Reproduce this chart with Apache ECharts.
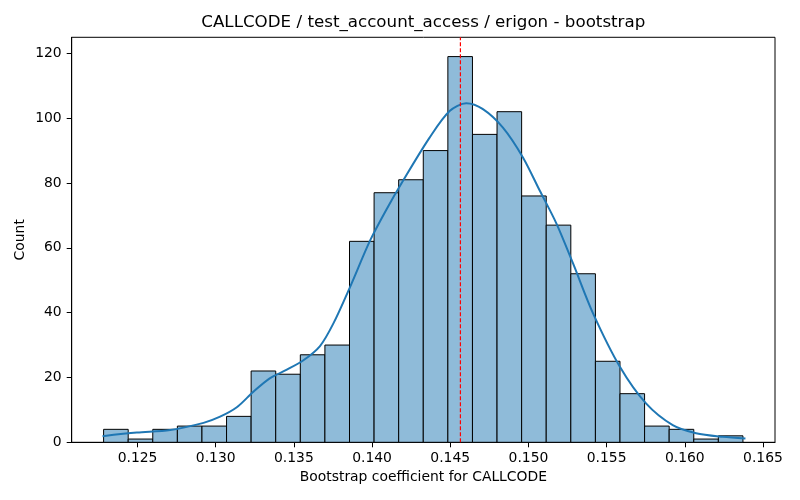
<!DOCTYPE html>
<html>
<head>
<meta charset="utf-8">
<script src="https://cdn.jsdelivr.net/npm/echarts@6/dist/echarts.min.js"></script>
<style>
  html, body { margin: 0; padding: 0; background: #fff; }
  #chart { width: 800px; height: 500px; }
</style>
</head>
<body>
<div id="chart"></div>
<script>
// histogram bins (26 equal-width bins)
const binStart = 0.12283;
const binWidth = 0.0015727;
const counts = [4, 1, 4, 5, 5, 8, 22, 21, 27, 30, 62, 77, 81, 90, 119, 95, 102, 76, 67, 52, 25, 15, 5, 4, 1, 2];

// kde curve
const kdeX = [0.12276, 0.12496, 0.12709, 0.12922, 0.13028, 0.13135, 0.13241, 0.13348, 0.13455, 0.13561,
              0.13667, 0.13752, 0.13859, 0.13987, 0.14094, 0.14198, 0.14368, 0.14496, 0.14602, 0.14709,
              0.14837, 0.14965, 0.15073, 0.15180, 0.15286, 0.15414, 0.15585, 0.15752, 0.15923, 0.16072,
              0.16242, 0.16388];
const kdeY = [1.9, 3.0, 3.8, 6.0, 7.9, 10.8, 15.6, 19.8, 22.4, 25.3,
              29.7, 36.6, 47.9, 62.2, 72.0, 80.7, 94.0, 102.2, 104.6, 102.8,
              97.1, 87.9, 77.6, 67.4, 55.1, 39.7, 23.3, 12.0, 5.3, 2.8,
              1.7, 1.2];

// point estimate (red dashed line)
const estimate = 0.14565;

const xTicks = [0.125, 0.130, 0.135, 0.140, 0.145, 0.150, 0.155, 0.160, 0.165];
const yTicks = [0, 20, 40, 60, 80, 100, 120];
const yMax = 124.95;

const FONT = 'DejaVu Sans';

const barData = counts.map(function (c, i) {
    return [binStart + i * binWidth, binStart + (i + 1) * binWidth, c];
});
const kdeData = kdeX.map(function (x, i) { return [x, kdeY[i]]; });

const chart = echarts.init(document.getElementById('chart'), null, { renderer: 'canvas' });

const axisCommon = {
    axisLine: { show: true, lineStyle: { color: '#000', width: 1 } },
    axisTick: { show: true, inside: false, length: 5, lineStyle: { color: '#000', width: 1 } },
    splitLine: { show: false },
    nameMoveOverlap: false,
    nameTextStyle: { fontFamily: FONT, fontSize: 13.9, color: '#000' }
};

chart.setOption({
    animation: false,
    backgroundColor: '#fff',
    graphic: [{
        type: 'text',
        x: 423.3,
        y: 23,
        style: {
            text: 'CALLCODE / test_account_access / erigon - bootstrap',
            fontFamily: FONT,
            fontSize: 16.7,
            fill: '#000',
            textAlign: 'center',
            textVerticalAlign: 'middle'
        }
    }],
    grid: {
        left: 71.7,
        right: 25,
        top: 37.3,
        bottom: 57.7,
        show: true,
        borderColor: '#000',
        borderWidth: 1,
        containLabel: false
    },
    xAxis: Object.assign({}, axisCommon, {
        type: 'value',
        min: 0.12079,
        max: 0.16577,
        name: 'Bootstrap coefficient for CALLCODE',
        nameLocation: 'middle',
        nameGap: 28,
        axisTick: Object.assign({}, axisCommon.axisTick, { customValues: xTicks }),
        axisLabel: {
            customValues: xTicks,
            margin: 9,
            fontFamily: FONT,
            fontSize: 13.9,
            color: '#000',
            formatter: function (v) { return v.toFixed(3); }
        }
    }),
    yAxis: Object.assign({}, axisCommon, {
        type: 'value',
        min: 0,
        max: yMax,
        name: 'Count',
        nameLocation: 'middle',
        nameGap: 44,
        axisTick: Object.assign({}, axisCommon.axisTick, { customValues: yTicks }),
        axisLabel: {
            customValues: yTicks,
            margin: 10,
            fontFamily: FONT,
            fontSize: 13.9,
            color: '#000'
        }
    }),
    series: [
        {
            type: 'custom',
            name: 'hist',
            data: barData,
            encode: { x: [0, 1], y: 2 },
            renderItem: function (params, api) {
                const p0 = api.coord([api.value(0), api.value(2)]);
                const p1 = api.coord([api.value(1), 0]);
                return {
                    type: 'rect',
                    shape: { x: p0[0], y: p0[1], width: p1[0] - p0[0], height: p1[1] - p0[1] },
                    style: { fill: '#8fbbd9', stroke: '#000', lineWidth: 1 }
                };
            },
            z: 2
        },
        {
            type: 'line',
            name: 'kde',
            data: kdeData,
            smooth: 0.3,
            showSymbol: false,
            symbol: 'none',
            lineStyle: { color: '#1f77b4', width: 2 },
            z: 3
        },
        {
            type: 'line',
            name: 'estimate',
            data: [[estimate, 0], [estimate, yMax]],
            showSymbol: false,
            symbol: 'none',
            silent: true,
            lineStyle: { color: '#ff0000', width: 1.2, type: [4, 2] },
            z: 4
        }
    ]
});
</script>
</body>
</html>
